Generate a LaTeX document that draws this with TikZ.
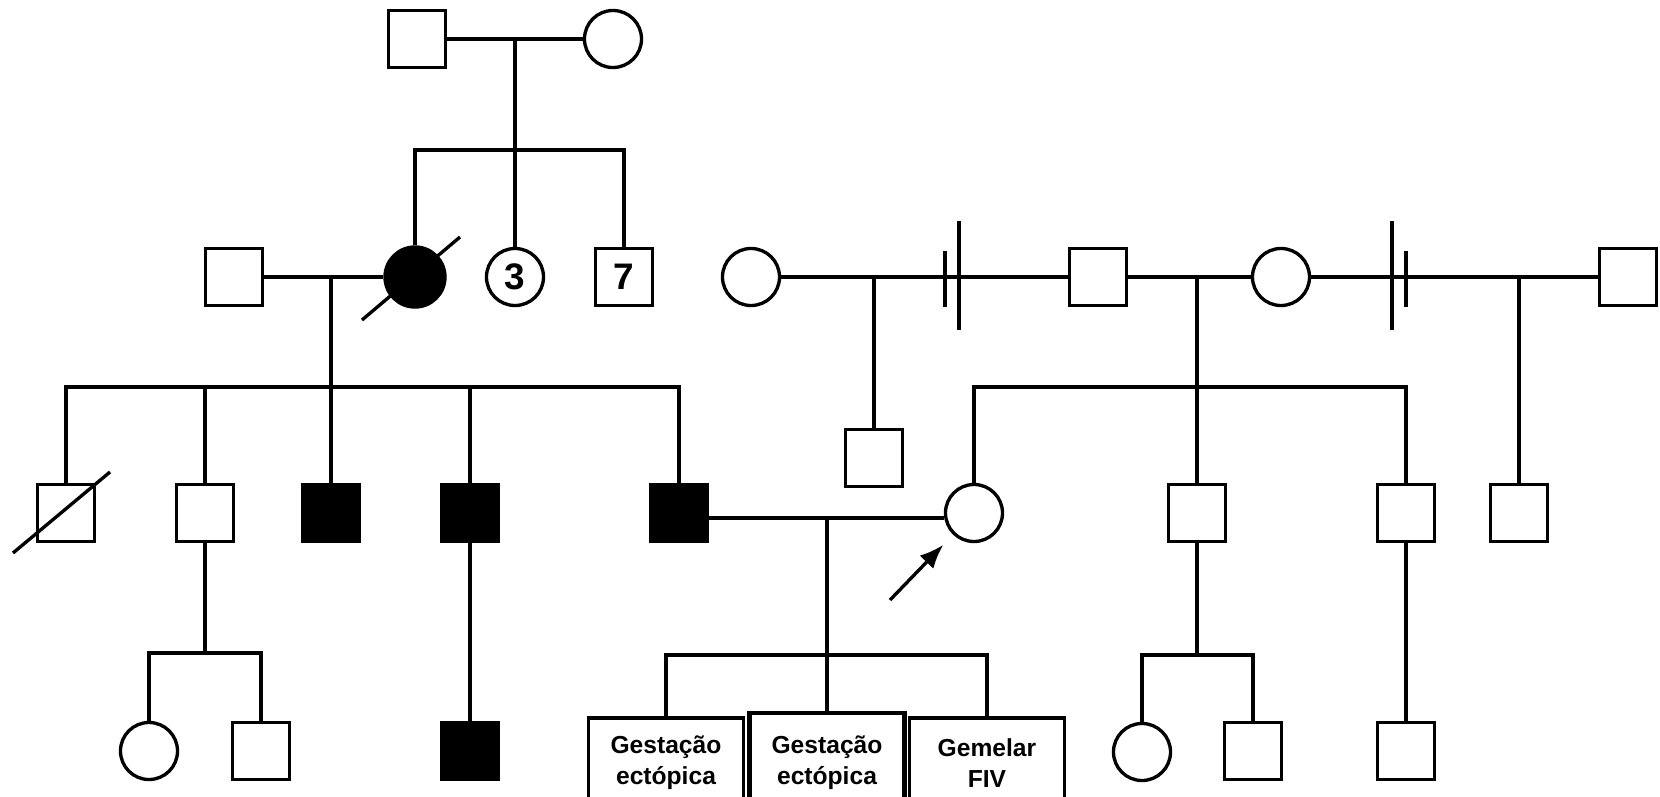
\documentclass[tikz,border=0pt]{standalone}
\usepackage{fontspec}
\setmainfont{Liberation Sans}
\usetikzlibrary{arrows.meta}
\tikzset{
  male/.style={draw, rectangle, minimum size=0.57cm, inner sep=0pt},
  female/.style={draw, circle, minimum size=0.57cm, inner sep=0pt},
  affected/.style={fill=black},
  count/.style={font=\fontsize{10.5}{12}\selectfont\bfseries},
  pregnancy/.style={draw, rectangle, minimum width=1.55cm, minimum height=0.9cm, align=center,
    font=\fontsize{7}{8.8}\selectfont\bfseries}
}
\begin{document}
\begin{tikzpicture}[x=0.01cm, y=-0.01cm, line width=0.95pt]
    \useasboundingbox (0,0) rectangle (1660,797);
    % Generation I
    \node[male] (gf) at (417,39) {};
    \node[female] (gm) at (613,39) {};
    \draw (gf) -- (gm);
    % Generation II
    \node[male] (h1) at (234,277) {};
    \node[female, affected, minimum size=0.6cm] (m) at (415,277) {};
    \node[female, count] (s3) at (515,277) {3};
    \node[male, count] (s7) at (624,277) {7};
    \node[female] (w1) at (751,277) {};
    \node[male] (f) at (1098,277) {};
    \node[female] (mo) at (1281,277) {};
    \node[male] (h3) at (1628,277) {};
    \coordinate (sb1) at (515,150);
    \draw (gf -| sb1) -- (sb1);
    \draw (m) |- (sb1) -| (s7);
    \draw (sb1) -- (s3);
    \draw (362,320) -- (460,237);
    \draw (h1) -- (m);
    \draw (w1) -- (f);
    \draw (f) -- (mo);
    \draw (mo) -- (h3);
    % Separations
    \draw (945,251) -- (945,307);
    \draw (959,221) -- (959,330);
    \draw (1392,221) -- (1392,330);
    \draw (1406,251) -- (1406,307);
    % Generation III
    \node[male] (d1) at (66,513) {};
    \node[male] (c2) at (205,513) {};
    \node[male, affected] (a1) at (331,513) {};
    \node[male, affected] (a2) at (470,513) {};
    \node[male, affected] (a3) at (679,513) {};
    \node[male] (k) at (874,458) {};
    \node[female] (pb) at (974,513) {};
    \node[male] (b1) at (1197,513) {};
    \node[male] (b2) at (1406,513) {};
    \node[male] (c3) at (1519,513) {};
    \coordinate (sb2) at (331,387);
    \draw (h1 -| sb2) -- (a1);
    \draw (d1) |- (sb2) -| (a3);
    \draw (sb2 -| c2) -- (c2);
    \draw (sb2 -| a2) -- (a2);
    \draw (13,553) -- (110,472);
    \draw (w1 -| k) -- (k);
    \coordinate (sb3) at (1197,387);
    \draw (f -| sb3) -- (b1);
    \draw (pb) |- (sb3) -| (b2);
    \draw (mo -| c3) -- (c3);
    \draw ([yshift=-0.05cm]a3.east) -- ([yshift=-0.05cm]pb.west);
    % Proband
    \coordinate (arr) at (890,600);
    \draw[-{Latex[length=0.24cm, width=0.19cm]}, shorten >=0.14cm] (arr) -- (pb);
    % Generation IV
    \node[pregnancy] (e1) at (666,763) {Gestação\\ectópica};
    \node[pregnancy, minimum height=1cm, line width=1.4pt] (e2) at (827,763) {Gestação\\ectópica};
    \node[pregnancy] (e3) at (987,763) {Gemelar\\FIV};
    \coordinate (sb4) at (827,655);
    \draw (a3 -| sb4) ++(0,5) -- (e2);
    \draw (e1) |- (sb4) -| (e3);
    \node[female] (g1) at (149,751) {};
    \node[male] (g2) at (261,751) {};
    \node[male, affected] (a4) at (470,751) {};
    \node[female] (g3) at (1142,752) {};
    \node[male] (g4) at (1253,751) {};
    \node[male] (g5) at (1406,751) {};
    \coordinate (sb5) at (205,653);
    \draw (c2) -- (sb5);
    \draw (g1) |- (sb5) -| (g2);
    \draw (a2) -- (a4);
    \coordinate (sb6) at (1197,655);
    \draw (b1) -- (sb6);
    \draw (g3) |- (sb6) -| (g4);
    \draw (b2) -- (g5);
\end{tikzpicture}
\end{document}
